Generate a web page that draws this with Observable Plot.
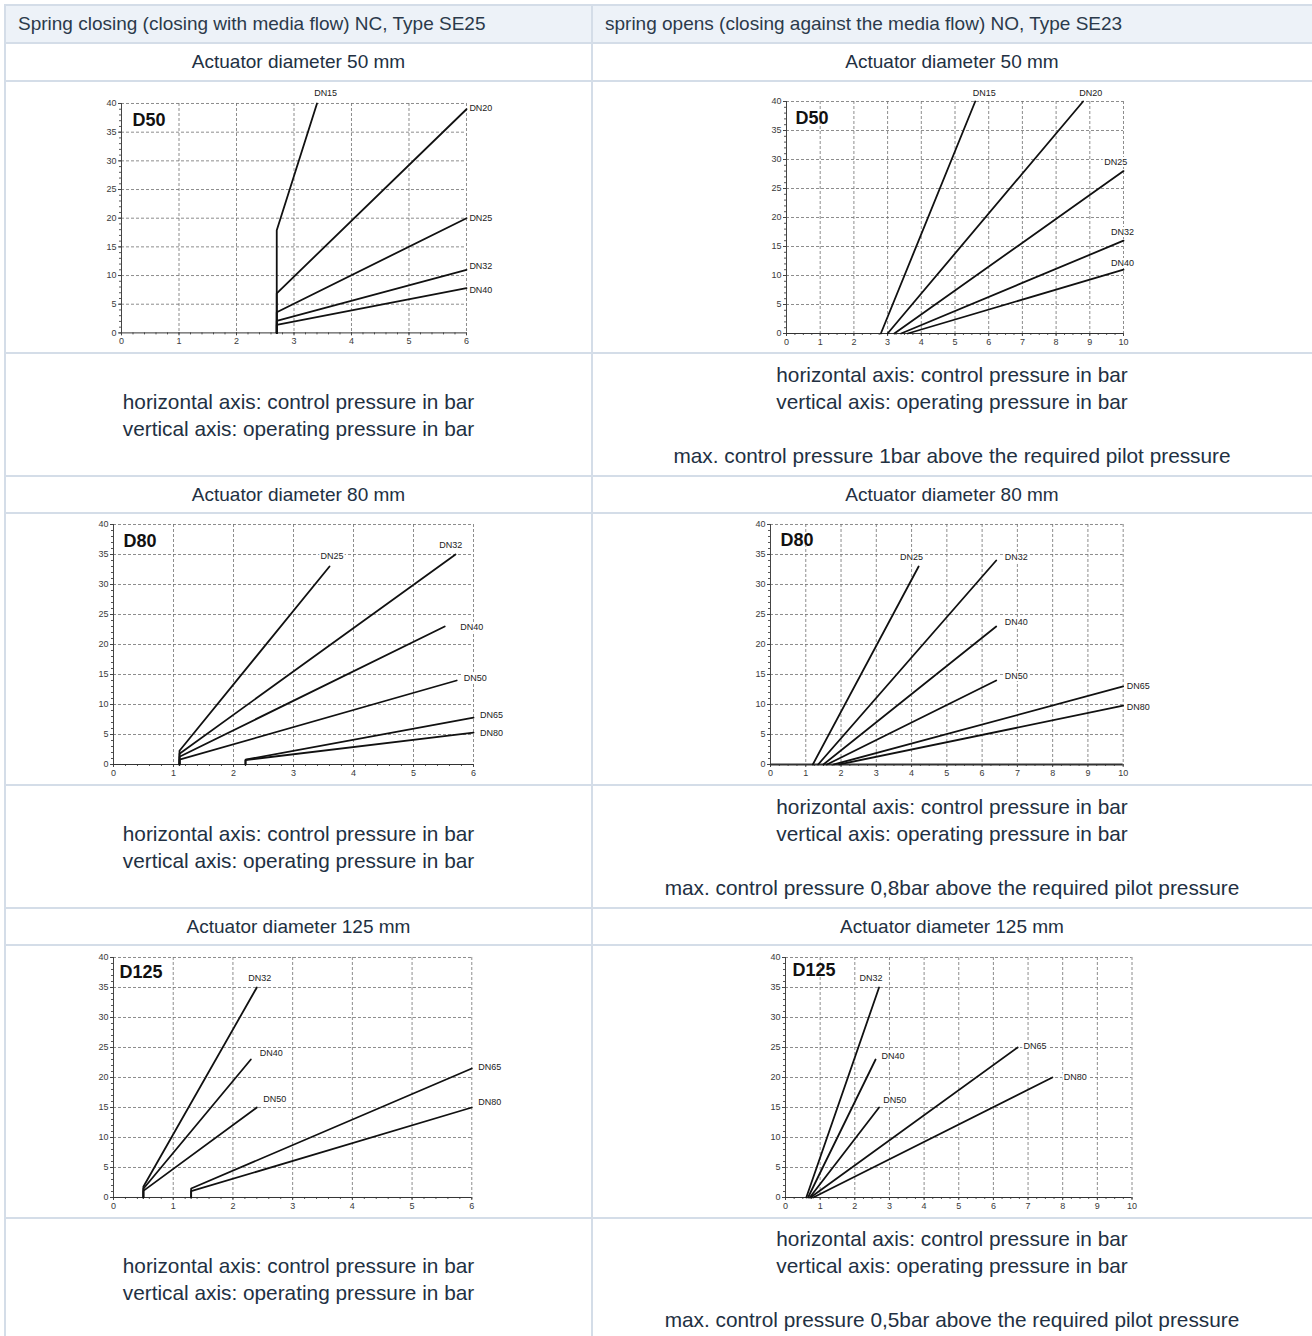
<!DOCTYPE html>
<html>
<head>
<meta charset="utf-8">
<script src="https://cdn.jsdelivr.net/npm/d3@7"></script>
<script src="https://cdn.jsdelivr.net/npm/@observablehq/plot@0.6"></script>
<style>
  html, body { margin: 0; padding: 0; background: #fff; }
  body { font-family: "Liberation Sans", Arial, Helvetica, sans-serif; }
  #page { position: relative; width: 1312px; height: 1336px; overflow: hidden; }
  .bg { position: absolute; background: #edf2f8; }
  .line { position: absolute; background: #d4dde8; }
  .cell { position: absolute; box-sizing: border-box; display: flex; align-items: center; color: #223042; }
  .head { font-size: 19px; color: #2b3a4b; justify-content: flex-start; padding-left: 13px; }
  .sub { font-size: 19px; justify-content: center; text-align: center; }
  .desc { font-size: 20.8px; line-height: 27px; justify-content: center; text-align: center; }
  .chart { position: absolute; }
  .chart svg { overflow: visible; }
</style>
</head>
<body>
<div id="page"></div>
<script>
// ---------------- text content ----------------
const headers = [
  "Spring closing (closing with media flow) NC, Type SE25",
  "spring opens (closing against the media flow) NO, Type SE23"
];
const actuatorTitles = ["Actuator diameter 50 mm", "Actuator diameter 80 mm", "Actuator diameter 125 mm"];
const axisNotes = ["horizontal axis: control pressure in bar", "vertical axis: operating pressure in bar"];
const maxNotes = [
  "max. control pressure 1bar above the required pilot pressure",
  "max. control pressure 0,8bar above the required pilot pressure",
  "max. control pressure 0,5bar above the required pilot pressure"
];
const chartTitles = ["D50", "D80", "D125"];

// ---------------- tick values ----------------
const ncXTicks = [0, 1, 2, 3, 4, 5, 6];
const noXTicks = [0, 1, 2, 3, 4, 5, 6, 7, 8, 9, 10];
const yTicks = [0, 5, 10, 15, 20, 25, 30, 35, 40];

// ---------------- NC (SE25), D50 ----------------
const ncD50Names = ["DN15", "DN20", "DN25", "DN32", "DN40"];
const ncD50X = [[2.7, 2.7, 3.4], [2.7, 2.7, 6], [2.7, 2.7, 6], [2.7, 2.7, 6], [2.7, 2.7, 6]];
const ncD50Y = [[0, 17.9, 40], [0, 6.9, 39], [0, 3.6, 20], [0, 2.1, 11], [0, 1.4, 7.8]];
const ncD50LabelX = [3.55, 6.25, 6.25, 6.25, 6.25];
const ncD50LabelY = [41.8, 39.2, 20.1, 11.6, 7.5];

// ---------------- NO (SE23), D50 ----------------
const noD50Names = ["DN15", "DN20", "DN25", "DN32", "DN40"];
const noD50X = [[2.8, 5.6], [3.0, 8.8], [3.2, 10], [3.4, 10], [3.6, 10]];
const noD50Y = [[0, 40], [0, 40], [0, 28], [0, 16], [0, 11]];
const noD50LabelX = [5.87, 9.03, 9.77, 9.97, 9.97];
const noD50LabelY = [41.5, 41.5, 29.6, 17.4, 12.2];

// ---------------- NC (SE25), D80 ----------------
const ncD80Names = ["DN25", "DN32", "DN40", "DN50", "DN65", "DN80"];
const ncD80X = [[1.1, 1.1, 3.6], [1.1, 1.1, 5.7], [1.1, 1.1, 5.52], [1.1, 1.1, 5.72], [2.2, 2.2, 6], [2.2, 2.2, 6]];
const ncD80Y = [[0, 2.3, 33], [0, 1.8, 35], [0, 1.3, 23], [0, 0.8, 14], [0, 0.8, 7.8], [0, 0.75, 5.3]];
const ncD80LabelX = [3.64, 5.62, 5.97, 6.03, 6.3, 6.3];
const ncD80LabelY = [34.8, 36.5, 22.9, 14.4, 8.2, 5.3];

// ---------------- NO (SE23), D80 ----------------
const noD80Names = ["DN25", "DN32", "DN40", "DN50", "DN65", "DN80"];
const noD80X = [[1.2, 4.2], [1.35, 6.4], [1.5, 6.4], [1.6, 6.4], [1.8, 10], [1.95, 10]];
const noD80Y = [[0, 33], [0, 34], [0, 23], [0, 14], [0, 13], [0, 9.8]];
const noD80LabelX = [4.0, 6.97, 6.97, 6.97, 10.43, 10.43];
const noD80LabelY = [34.6, 34.6, 23.7, 14.8, 13.1, 9.6];

// ---------------- NC (SE25), D125 ----------------
const ncD125Names = ["DN32", "DN40", "DN50", "DN65", "DN80"];
const ncD125X = [[0.5, 0.5, 2.4], [0.5, 0.5, 2.3], [0.5, 0.5, 2.4], [1.3, 1.3, 6], [1.3, 1.3, 6]];
const ncD125Y = [[0, 1.8, 35], [0, 1.45, 23], [0, 1.1, 15], [0, 1.5, 21.5], [0, 1.05, 15]];
const ncD125LabelX = [2.45, 2.64, 2.7, 6.3, 6.3];
const ncD125LabelY = [36.5, 24, 16.4, 21.8, 15.9];

// ---------------- NO (SE23), D125 ----------------
const noD125Names = ["DN32", "DN40", "DN50", "DN65", "DN80"];
const noD125X = [[0.6, 2.7], [0.65, 2.6], [0.7, 2.7], [0.72, 6.7], [0.8, 7.7]];
const noD125Y = [[0, 35], [0, 23], [0, 15], [0, 25], [0, 20]];
const noD125LabelX = [2.47, 3.1, 3.15, 7.2, 8.36];
const noD125LabelY = [36.6, 23.5, 16.2, 25.3, 20];

// ---------------- layout (page pixels) ----------------
const page = document.getElementById("page");
const colX = [5, 592, 1312];
const rowLines = [5, 43, 81, 353, 476, 513, 785, 908, 945, 1218, 1340];
const rowKinds = ["head", "sub", "chart", "desc", "sub", "chart", "desc", "sub", "chart", "desc"];

function add(cls, css, html) {
  const d = document.createElement("div");
  d.className = cls;
  Object.assign(d.style, css);
  if (html !== undefined) d.innerHTML = html;
  page.appendChild(d);
  return d;
}

// header background
add("bg", {left: colX[0] + "px", top: rowLines[0] + "px", width: (colX[2] - colX[0]) + "px", height: (rowLines[1] - rowLines[0]) + "px"});

// text cells
rowKinds.forEach((kind, r) => {
  const top = rowLines[r], bottom = rowLines[r + 1];
  if (kind === "chart") return;
  for (let c = 0; c < 2; c++) {
    const css = {left: colX[c] + "px", top: top + "px", width: (colX[c + 1] - colX[c]) + "px", height: (bottom - top) + "px"};
    let html;
    if (kind === "head") html = headers[c];
    else if (kind === "sub") html = actuatorTitles[Math.floor((r - 1) / 3)];
    else {
      const s = Math.floor((r - 3) / 3);
      html = c === 0 ? axisNotes.join("<br>") : axisNotes.join("<br>") + "<br><br>" + maxNotes[s];
    }
    add("cell " + kind, css, html);
  }
});

// grid lines of the table
rowLines.slice(0, -1).forEach(y => add("line", {left: colX[0] + "px", top: (y - 1) + "px", width: (colX[2] - colX[0]) + "px", height: "2px"}));
add("line", {left: (colX[0] - 1) + "px", top: (rowLines[0] - 1) + "px", width: "2px", height: (1340 - rowLines[0]) + "px"});
add("line", {left: (colX[1] - 1) + "px", top: (rowLines[0] - 1) + "px", width: "2px", height: (1340 - rowLines[0]) + "px"});

// ---------------- charts ----------------
const charts = [
  {title: chartTitles[0], xmax: 6, ticks: ncXTicks, names: ncD50Names, xs: ncD50X, ys: ncD50Y, lx: ncD50LabelX, ly: ncD50LabelY,
   box: {x0: 120.7, x1: 465.7, y0: 103.3, y1: 332.7}, tdx: 11, tdy: 10},
  {title: chartTitles[0], xmax: 10, ticks: noXTicks, names: noD50Names, xs: noD50X, ys: noD50Y, lx: noD50LabelX, ly: noD50LabelY,
   box: {x0: 785.7, x1: 1122.7, y0: 100.7, y1: 332.7}, tdx: 9, tdy: 10},
  {title: chartTitles[1], xmax: 6, ticks: ncXTicks, names: ncD80Names, xs: ncD80X, ys: ncD80Y, lx: ncD80LabelX, ly: ncD80LabelY,
   box: {x0: 113, x1: 473, y0: 524.3, y1: 764.3}, tdx: 10, tdy: 10},
  {title: chartTitles[1], xmax: 10, ticks: noXTicks, names: noD80Names, xs: noD80X, ys: noD80Y, lx: noD80LabelX, ly: noD80LabelY,
   box: {x0: 770, x1: 1122.7, y0: 524.3, y1: 764.3}, tdx: 10, tdy: 9, thickBase: true},
  {title: chartTitles[2], xmax: 6, ticks: ncXTicks, names: ncD125Names, xs: ncD125X, ys: ncD125Y, lx: ncD125LabelX, ly: ncD125LabelY,
   box: {x0: 112.7, x1: 471, y0: 957.3, y1: 1197.3}, tdx: 6, tdy: 8},
  {title: chartTitles[2], xmax: 10, ticks: noXTicks, names: noD125Names, xs: noD125X, ys: noD125Y, lx: noD125LabelX, ly: noD125LabelY,
   box: {x0: 785, x1: 1131.5, y0: 957.3, y1: 1197.3}, tdx: 7, tdy: 6}
];

const mL = 26, mR = 44, mT = 20, mB = 20;
const fontFamily = '"Liberation Sans", Arial, Helvetica, sans-serif';

charts.forEach(cfg => {
  const rows = cfg.names.flatMap((n, i) => cfg.xs[i].map((x, j) => ({series: n, x, y: cfg.ys[i][j]})));
  const labels = cfg.names.map((n, i) => ({name: n, x: cfg.lx[i], y: cfg.ly[i]}));
  const w = cfg.box.x1 - cfg.box.x0, h = cfg.box.y1 - cfg.box.y0;
  const minorStep = cfg.xmax === 6 ? 0.2 : 0.25;
  const minorX = d3.range(0, Math.round(cfg.xmax / minorStep) + 1).map(i => +(i * minorStep).toFixed(3));
  const minorY = d3.range(0, 41);
  const dash = {stroke: "#707070", strokeOpacity: 1, strokeWidth: 0.8, strokeDasharray: "3,2"};
  const svg = Plot.plot({
    width: w + mL + mR,
    height: h + mT + mB,
    marginLeft: mL, marginRight: mR, marginTop: mT, marginBottom: mB,
    x: {domain: [0, cfg.xmax], label: null},
    y: {domain: [0, 40], label: null},
    style: {fontFamily, background: "transparent", overflow: "visible"},
    marks: [
      Plot.gridX(cfg.ticks.slice(1), dash),
      Plot.gridY(yTicks.slice(1), dash),
      Plot.axisX(minorX, {tickSize: 2, tickFormat: () => "", stroke: "#555", label: null}),
      Plot.axisY(minorY, {tickSize: 2, tickFormat: () => "", stroke: "#555", label: null}),
      Plot.axisX(cfg.ticks, {tickSize: 3, tickPadding: 2, fontSize: 9, fill: "#3a3a3a", stroke: "#444", label: null}),
      Plot.axisY(yTicks, {tickSize: 3, tickPadding: 2, fontSize: 9, fill: "#3a3a3a", stroke: "#444", label: null}),
      Plot.ruleX([0], {stroke: "#444", strokeWidth: 1}),
      Plot.ruleY([0], {stroke: "#333", strokeWidth: cfg.thickBase ? 2.2 : 1}),
      Plot.text(labels, {x: "x", y: "y", text: "name", fontSize: 9, fill: "none", stroke: "white", strokeWidth: 4}),
      Plot.line(rows, {x: "x", y: "y", z: "series", stroke: "#111", strokeWidth: 1.8, strokeLinejoin: "miter"}),
      Plot.text(labels, {x: "x", y: "y", text: "name", fontSize: 9, fill: "#222"}),
      Plot.text([cfg.title], {frameAnchor: "top-left", textAnchor: "start", lineAnchor: "top", dx: cfg.tdx, dy: cfg.tdy,
        fontSize: 18, fontWeight: "bold", fill: "#111"})
    ]
  });
  const holder = add("chart", {left: (cfg.box.x0 - mL) + "px", top: (cfg.box.y0 - mT) + "px"});
  holder.appendChild(svg);
});
</script>
</body>
</html>
